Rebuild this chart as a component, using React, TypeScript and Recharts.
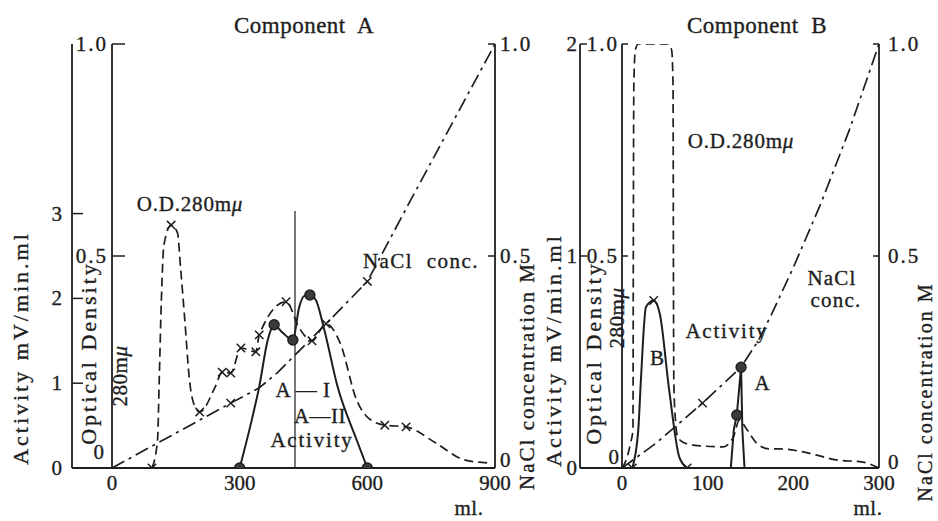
import React from 'react';
import { ComposedChart, Line, XAxis, YAxis } from 'recharts';

// ---------- Component A (left panel) ----------
const aXTicks = [0, 300, 600, 900];
const aActTicks = [0, 1, 2, 3];
const aOdTicks = [0, 0.5, 1];
const aNaclTicks = [0, 0.5, 1];

const aOd = [
  { ml: 94, od: 0 }, { ml: 107, od: 0.066 }, { ml: 111, od: 0.208 }, { ml: 116, od: 0.396 },
  { ml: 122, od: 0.526 }, { ml: 139, od: 0.573 }, { ml: 154, od: 0.554 }, { ml: 161, od: 0.474 },
  { ml: 171, od: 0.35 }, { ml: 182, od: 0.208 }, { ml: 195, od: 0.144 }, { ml: 206, od: 0.132 },
  { ml: 242, od: 0.19 }, { ml: 259, od: 0.226 }, { ml: 279, od: 0.224 }, { ml: 303, od: 0.283 },
  { ml: 338, od: 0.274 }, { ml: 346, od: 0.314 }, { ml: 409, od: 0.392 }, { ml: 440, od: 0.33 },
  { ml: 470, od: 0.3 }, { ml: 503, od: 0.34 }, { ml: 536, od: 0.295 }, { ml: 575, od: 0.16 },
  { ml: 600, od: 0.12 }, { ml: 641, od: 0.101 }, { ml: 691, od: 0.097 }, { ml: 761, od: 0.059 },
  { ml: 828, od: 0.019 }, { ml: 883, od: 0.012 },
];
const aOdMarks = [
  { ml: 94, od: 0 }, { ml: 139, od: 0.573 }, { ml: 206, od: 0.132 }, { ml: 259, od: 0.226 },
  { ml: 279, od: 0.224 }, { ml: 303, od: 0.283 }, { ml: 338, od: 0.274 }, { ml: 346, od: 0.314 },
  { ml: 409, od: 0.392 }, { ml: 470, od: 0.3 }, { ml: 641, od: 0.101 }, { ml: 691, od: 0.097 },
];
const aActivity = [
  { ml: 300, act: 0 }, { ml: 330, act: 0.6 }, { ml: 346, act: 0.96 }, { ml: 366, act: 1.51 },
  { ml: 381, act: 1.69 }, { ml: 400, act: 1.6 }, { ml: 425, act: 1.51 }, { ml: 440, act: 1.9 },
  { ml: 452, act: 2.03 }, { ml: 465, act: 2.04 }, { ml: 479, act: 1.98 }, { ml: 497, act: 1.67 },
  { ml: 530, act: 0.96 }, { ml: 575, act: 0.33 }, { ml: 600, act: 0 },
];
const aActivityDots = [
  { ml: 300, act: 0 }, { ml: 381, act: 1.69 }, { ml: 425, act: 1.51 }, { ml: 465, act: 2.04 }, { ml: 600, act: 0 },
];
const aNacl = [
  { ml: 0, nacl: 0 }, { ml: 279, nacl: 0.153 }, { ml: 346, nacl: 0.189 }, { ml: 389, nacl: 0.225 },
  { ml: 503, nacl: 0.34 }, { ml: 600, nacl: 0.44 }, { ml: 703, nacl: 0.634 }, { ml: 900, nacl: 1.0 },
];
const aNaclMarks = [{ ml: 279, nacl: 0.153 }, { ml: 503, nacl: 0.34 }, { ml: 600, nacl: 0.44 }];
const aSplit = [{ ml: 430, act: 0 }, { ml: 430, act: 3.03 }];

// ---------- Component B (right panel) ----------
const bXTicks = [0, 100, 200, 300];
const bActTicks = [0, 1, 2];
const bOdTicks = [0, 0.5, 1];
const bNaclTicks = [0, 0.5, 1];

const bOd = [
  { ml: 0.5, od: 0 }, { ml: 6, od: 0.026 }, { ml: 10, od: 0.059 }, { ml: 12.8, od: 0.09 },
  { ml: 13.2, od: 0.5 }, { ml: 13.8, od: 0.9 }, { ml: 15.5, od: 0.985 }, { ml: 19, od: 1 },
  { ml: 54, od: 1 }, { ml: 58, od: 0.985 }, { ml: 59.6, od: 0.9 }, { ml: 60, od: 0.5 },
  { ml: 60.5, od: 0.2 }, { ml: 62.5, od: 0.11 }, { ml: 65, od: 0.073 }, { ml: 72, od: 0.06 },
  { ml: 83, od: 0.054 }, { ml: 118, od: 0.05 }, { ml: 130, od: 0.073 }, { ml: 137, od: 0.113 },
  { ml: 146, od: 0.09 }, { ml: 157, od: 0.059 }, { ml: 172, od: 0.045 }, { ml: 185, od: 0.045 },
  { ml: 206, od: 0.04 }, { ml: 226, od: 0.031 }, { ml: 250, od: 0.019 }, { ml: 281, od: 0.014 },
  { ml: 300, od: 0 },
];
const bActivityB = [
  { ml: 12, act: 0 }, { ml: 19, act: 0.18 }, { ml: 22, act: 0.41 }, { ml: 28, act: 0.76 },
  { ml: 37, act: 0.79 }, { ml: 44, act: 0.73 }, { ml: 55, act: 0.37 }, { ml: 67, act: 0.05 },
  { ml: 76, act: 0 },
];
const bActivityBMarks = [{ ml: 12, act: 0 }, { ml: 37, act: 0.79 }, { ml: 76, act: 0 }];
const bActivityA = [
  { ml: 127, act: 0 }, { ml: 130.5, act: 0.18 }, { ml: 134, act: 0.25 }, { ml: 139, act: 0.475 },
  { ml: 140.5, act: 0.18 }, { ml: 143, act: 0 },
];
const bActivityADots = [{ ml: 134, act: 0.25 }, { ml: 139, act: 0.475 }];
const bNacl = [
  { ml: 0, nacl: 0 }, { ml: 40, nacl: 0.059 }, { ml: 94, nacl: 0.153 }, { ml: 139, nacl: 0.238 },
  { ml: 159, nacl: 0.3 }, { ml: 174, nacl: 0.36 }, { ml: 200, nacl: 0.473 }, { ml: 232, nacl: 0.623 },
  { ml: 265, nacl: 0.795 }, { ml: 300, nacl: 1.0 },
];
const bNaclMarks = [{ ml: 94, nacl: 0.153 }];

// ---------- styling ----------
const INK = '#1e1e1e';
const FONT = '"Liberation Serif", "DejaVu Serif", serif';
const OD_DASH = '9 5';
const NACL_DASH = '14 5 3 5';
const TEXT_STROKE = 0.35;
// axis ids: the od axis sits next to the plot, the activity axis outside it
const OD = 'y1od';
const ACT = 'y2act';
const NACL = 'y3nacl';

type TickCfg = {
  side: 'left' | 'right';
  len: number;
  gap: number;
  decimals: number;
  spacing?: number;
  zeroLift?: number;
  zeroShift?: number;
  baseExtend?: number;
};

function yTick(cfg: TickCfg) {
  return (props: any) => {
    const { x, y, payload } = props;
    const v = payload.value as number;
    const dir = cfg.side === 'left' ? 1 : -1;
    const isZero = v === 0;
    const ty = isZero && cfg.zeroLift ? y - cfg.zeroLift : y;
    const tx = x - dir * (cfg.gap + (isZero && cfg.zeroShift ? cfg.zeroShift : 0));
    const label = isZero ? '0' : v.toFixed(cfg.decimals);
    return (
      <g>
        <line x1={x} x2={x + dir * cfg.len} y1={y} y2={y} stroke={INK} strokeWidth={1.5} />
        {isZero && cfg.baseExtend ? (
          <line x1={x} x2={x + cfg.baseExtend} y1={y} y2={y} stroke={INK} strokeWidth={1.8} />
        ) : null}
        <text
          x={tx}
          y={ty}
          textAnchor={cfg.side === 'left' ? 'end' : 'start'}
          dominantBaseline="central"
          fontFamily={FONT}
          fontSize={21}
          letterSpacing={isZero ? 0 : cfg.spacing ?? 0}
          fill={INK}
          stroke={INK}
          strokeWidth={TEXT_STROKE}
        >
          {label}
        </text>
      </g>
    );
  };
}

const xTick = (props: any) => {
  const { x, y, payload } = props;
  return (
    <text x={x} y={y + 22} textAnchor="middle" fontFamily={FONT} fontSize={21} fill={INK} stroke={INK} strokeWidth={TEXT_STROKE}>
      {String(payload.value)}
    </text>
  );
};

const crossDot = (p: any) => {
  const { cx, cy, key } = p;
  if (cx == null || cy == null) return <g key={key} />;
  const s = 4.2;
  return (
    <path
      key={key}
      d={`M${cx - s},${cy - s}L${cx + s},${cy + s}M${cx - s},${cy + s}L${cx + s},${cy - s}`}
      stroke={INK}
      strokeWidth={1.5}
      fill="none"
    />
  );
};

const filledDot = (p: any) => {
  const { cx, cy, key } = p;
  if (cx == null || cy == null) return <g key={key} />;
  return <circle key={key} cx={cx} cy={cy} r={5} fill="#3a3a3a" stroke={INK} strokeWidth={1.4} />;
};

const axisLine = { stroke: INK, strokeWidth: 1.8 };

function T(props: {
  x: number; y: number; children: React.ReactNode; size?: number; spacing?: number; rot?: boolean;
}) {
  const { x, y, children, size = 21, spacing = 1, rot = false } = props;
  const common = {
    fontFamily: FONT,
    fontSize: size,
    letterSpacing: spacing,
    fill: INK,
    stroke: INK,
    strokeWidth: TEXT_STROKE,
    style: { whiteSpace: 'pre' as const },
  };
  if (rot) {
    return (
      <text transform={`translate(${x},${y}) rotate(-90)`} textAnchor="middle" dominantBaseline="central" {...common}>
        {children}
      </text>
    );
  }
  return (
    <text x={x} y={y} textAnchor="middle" {...common}>
      {children}
    </text>
  );
}

const Mu = () => <tspan fontStyle="italic">μ</tspan>;

export default function App() {
  return (
    <div style={{ position: 'absolute', left: 0, top: 0, width: 938, height: 521, background: '#fff', overflow: 'hidden' }}>
      {/* Left panel */}
      <div style={{ position: 'absolute', left: 0, top: 0 }}>
        <ComposedChart width={540} height={521} margin={{ top: 44, right: 0, bottom: 0, left: 0 }}>
          <XAxis
            type="number"
            dataKey="ml"
            domain={[0, 900]}
            ticks={aXTicks}
            interval={0}
            height={53}
            tickSize={0}
            tickMargin={0}
            tickLine={false}
            axisLine={axisLine}
            tick={xTick}
            allowDataOverflow
          />
          <YAxis
            yAxisId={OD}
            orientation="left"
            width={40}
            domain={[0, 1]}
            ticks={aOdTicks}
            interval={0}
            tickSize={0}
            tickMargin={0}
            tickLine={false}
            axisLine={axisLine}
            tick={yTick({ side: 'left', len: 13, gap: 4, decimals: 1, spacing: 2, zeroLift: 16, zeroShift: 4 })}
            allowDataOverflow
          />
          <YAxis
            yAxisId={ACT}
            orientation="left"
            width={72}
            domain={[0, 5]}
            ticks={aActTicks}
            interval={0}
            tickSize={0}
            tickMargin={0}
            tickLine={false}
            axisLine={axisLine}
            tick={yTick({ side: 'left', len: 11, gap: 10, decimals: 0, baseExtend: 40 })}
            allowDataOverflow
          />
          <YAxis
            yAxisId={NACL}
            orientation="right"
            width={45}
            domain={[0, 1]}
            ticks={aNaclTicks}
            interval={0}
            tickSize={0}
            tickMargin={0}
            tickLine={false}
            axisLine={axisLine}
            tick={yTick({ side: 'right', len: 7, gap: 5, decimals: 1, spacing: 2, zeroLift: 8 })}
            allowDataOverflow
          />
          <Line data={aSplit} dataKey="act" yAxisId={ACT} type="linear" stroke={INK} strokeWidth={1.2} dot={false} activeDot={false} isAnimationActive={false} />
          <Line data={aNacl} dataKey="nacl" yAxisId={NACL} type="linear" stroke={INK} strokeWidth={1.7} strokeDasharray={NACL_DASH} dot={false} activeDot={false} isAnimationActive={false} />
          <Line data={aOd} dataKey="od" yAxisId={OD} type="monotone" stroke={INK} strokeWidth={1.7} strokeDasharray={OD_DASH} dot={false} activeDot={false} isAnimationActive={false} />
          <Line data={aActivity} dataKey="act" yAxisId={ACT} type="monotone" stroke={INK} strokeWidth={2} dot={false} activeDot={false} isAnimationActive={false} />
          <Line data={aOdMarks} dataKey="od" yAxisId={OD} stroke="none" dot={crossDot} activeDot={false} isAnimationActive={false} />
          <Line data={aNaclMarks} dataKey="nacl" yAxisId={NACL} stroke="none" dot={crossDot} activeDot={false} isAnimationActive={false} />
          <Line data={aActivityDots} dataKey="act" yAxisId={ACT} stroke="none" dot={filledDot} activeDot={false} isAnimationActive={false} />
        </ComposedChart>
      </div>

      {/* Right panel */}
      <div style={{ position: 'absolute', left: 540, top: 0 }}>
        <ComposedChart width={398} height={521} margin={{ top: 44, right: 0, bottom: 0, left: 0 }}>
          <XAxis
            type="number"
            dataKey="ml"
            domain={[0, 300]}
            ticks={bXTicks}
            interval={0}
            height={53}
            tickSize={0}
            tickMargin={0}
            tickLine={false}
            axisLine={axisLine}
            tick={xTick}
            allowDataOverflow
          />
          <YAxis
            yAxisId={OD}
            orientation="left"
            width={42}
            domain={[0, 1]}
            ticks={bOdTicks}
            interval={0}
            tickSize={0}
            tickMargin={0}
            tickLine={false}
            axisLine={axisLine}
            tick={yTick({ side: 'left', len: 6, gap: 3, decimals: 1, spacing: 2, zeroLift: 11, zeroShift: 0 })}
            allowDataOverflow
          />
          <YAxis
            yAxisId={ACT}
            orientation="left"
            width={40}
            domain={[0, 2]}
            ticks={bActTicks}
            interval={0}
            tickSize={0}
            tickMargin={0}
            tickLine={false}
            axisLine={axisLine}
            tick={yTick({ side: 'left', len: 7, gap: 3, decimals: 0, baseExtend: 42 })}
            allowDataOverflow
          />
          <YAxis
            yAxisId={NACL}
            orientation="right"
            width={59}
            domain={[0, 1]}
            ticks={bNaclTicks}
            interval={0}
            tickSize={0}
            tickMargin={0}
            tickLine={false}
            axisLine={axisLine}
            tick={yTick({ side: 'right', len: 6, gap: 9, decimals: 1, spacing: 2, zeroLift: 6 })}
            allowDataOverflow
          />
          <Line data={bNacl} dataKey="nacl" yAxisId={NACL} type="linear" stroke={INK} strokeWidth={1.7} strokeDasharray={NACL_DASH} dot={false} activeDot={false} isAnimationActive={false} />
          <Line data={bOd} dataKey="od" yAxisId={OD} type="monotone" stroke={INK} strokeWidth={1.7} strokeDasharray={OD_DASH} dot={false} activeDot={false} isAnimationActive={false} />
          <Line data={bActivityB} dataKey="act" yAxisId={ACT} type="monotone" stroke={INK} strokeWidth={2} dot={false} activeDot={false} isAnimationActive={false} />
          <Line data={bActivityA} dataKey="act" yAxisId={ACT} type="linear" stroke={INK} strokeWidth={2} dot={false} activeDot={false} isAnimationActive={false} />
          <Line data={bActivityBMarks} dataKey="act" yAxisId={ACT} stroke="none" dot={crossDot} activeDot={false} isAnimationActive={false} />
          <Line data={bNaclMarks} dataKey="nacl" yAxisId={NACL} stroke="none" dot={crossDot} activeDot={false} isAnimationActive={false} />
          <Line data={bActivityADots} dataKey="act" yAxisId={ACT} stroke="none" dot={filledDot} activeDot={false} isAnimationActive={false} />
        </ComposedChart>
      </div>

      {/* Text overlay */}
      <svg width={938} height={521} style={{ position: 'absolute', left: 0, top: 0, pointerEvents: 'none' }}>
        <T x={304} y={33} size={23} spacing={0.5}>{'Component  A'}</T>
        <T x={757} y={33} size={23} spacing={0.5}>{'Component  B'}</T>

        <T x={20} y={348} rot size={22} spacing={3}>Activity mV/min.ml</T>
        <T x={88} y={353} rot size={22} spacing={3}>Optical Density</T>
        <T x={120} y={376} rot size={21} spacing={0.5}>280m<Mu /></T>
        <T x={527} y={376} rot size={21} spacing={2}>NaCl concentration M</T>

        <T x={553} y={350} rot size={22} spacing={3}>Activity mV/min.ml</T>
        <T x={593} y={353} rot size={22} spacing={3}>Optical Density</T>
        <T x={617} y={318} rot size={21} spacing={0.5}>280m<Mu /></T>
        <T x={925} y={392} rot size={20} spacing={2}>NaCl concentration M</T>

        <T x={190} y={211} size={21} spacing={0.8}>O.D.280m<Mu /></T>
        <T x={421} y={268} size={21} spacing={1.5}>{'NaCl  conc.'}</T>
        <T x={303} y={397} size={21} spacing={0.5}>A — I</T>
        <T x={320} y={423} size={21} spacing={0.5}>A—II</T>
        <T x={312} y={447} size={21} spacing={1.8}>Activity</T>
        <T x={469} y={515} size={21} spacing={0.5}>ml.</T>

        <T x={741} y={148} size={21} spacing={0.8}>O.D.280m<Mu /></T>
        <T x={832} y={285} size={21} spacing={1.2}>NaCl</T>
        <T x={836} y={307} size={21} spacing={1.2}>conc.</T>
        <T x={727} y={338} size={21} spacing={1.8}>Activity</T>
        <T x={657} y={365} size={21} spacing={0}>B</T>
        <T x={762} y={390} size={21} spacing={0}>A</T>
        <T x={868} y={515} size={21} spacing={0.5}>ml.</T>
      </svg>
    </div>
  );
}
